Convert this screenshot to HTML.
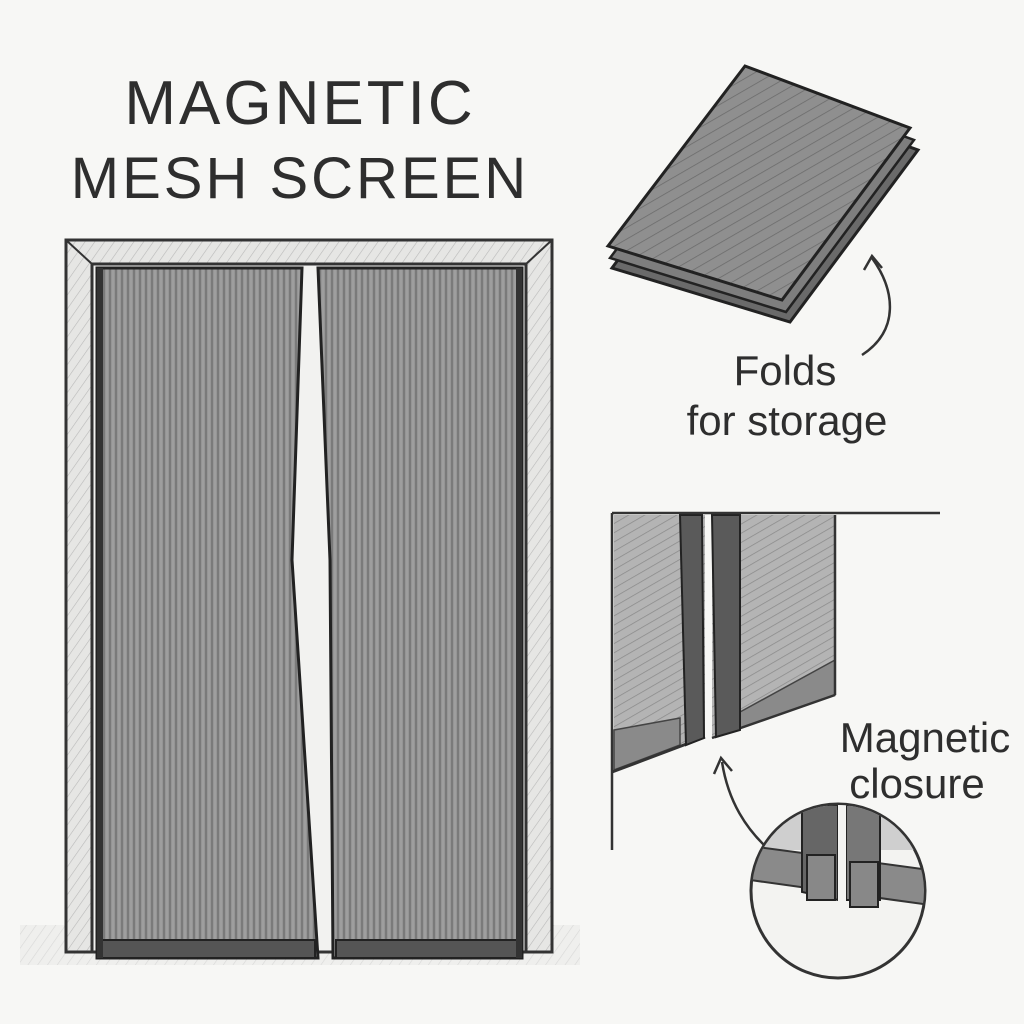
<!DOCTYPE html>
<html><head><meta charset="utf-8"><style>
html,body{margin:0;padding:0;background:#f7f7f5;}
svg{display:block}
text{font-family:"Liberation Sans",sans-serif;fill:#2e2e2e;}
</style></head><body>
<svg width="1024" height="1024" viewBox="0 0 1024 1024" xmlns="http://www.w3.org/2000/svg">
<defs>
<pattern id="vl" width="6" height="40" patternUnits="userSpaceOnUse">
<rect width="6" height="40" fill="#959595"/>
<line x1="2" y1="0" x2="2" y2="40" stroke="#6e6e6e" stroke-width="1.4"/>
<line x1="5" y1="0" x2="5" y2="40" stroke="#a8a8a8" stroke-width="1"/>
</pattern>
<pattern id="vl2" width="8" height="8" patternUnits="userSpaceOnUse" patternTransform="rotate(60)">
<rect width="8" height="8" fill="#b4b4b4"/>
<line x1="0" y1="0" x2="0" y2="8" stroke="#8a8a8a" stroke-width="1.5"/>
</pattern>
<pattern id="hatch" width="8" height="8" patternUnits="userSpaceOnUse" patternTransform="rotate(35)">
<rect width="8" height="8" fill="#e6e6e4"/>
<line x1="0" y1="0" x2="0" y2="8" stroke="#b9b9b9" stroke-width="1.2"/>
</pattern>
<pattern id="fold" width="10" height="10" patternUnits="userSpaceOnUse" patternTransform="rotate(60)">
<rect width="10" height="10" fill="#8f8f8f"/>
<line x1="0" y1="0" x2="0" y2="10" stroke="#6a6a6a" stroke-width="1.5"/>
</pattern>
</defs>
<rect width="1024" height="1024" fill="#f7f7f5"/>

<text x="300" y="124" font-size="62" text-anchor="middle" letter-spacing="3">MAGNETIC</text>
<text x="300" y="198" font-size="58" text-anchor="middle" letter-spacing="3">MESH SCREEN</text>

<rect x="20" y="925" width="560" height="40" fill="url(#hatch)" opacity="0.5"/>

<rect x="66" y="240" width="486" height="712" fill="url(#hatch)" stroke="#333" stroke-width="3"/>
<rect x="92" y="264" width="434" height="688" fill="#f2f2f0" stroke="#333" stroke-width="3"/>
<line x1="66" y1="240" x2="92" y2="264" stroke="#333" stroke-width="2"/>
<line x1="552" y1="240" x2="526" y2="264" stroke="#333" stroke-width="2"/>

<polygon points="97,268 302,268 292,560 318,958 97,958" fill="url(#vl)" stroke="#222" stroke-width="3"/>
<polygon points="318,268 522,268 522,958 333,958 330,560" fill="url(#vl)" stroke="#222" stroke-width="3"/>
<rect x="97" y="940" width="218" height="18" fill="#555" stroke="#222" stroke-width="2"/>
<rect x="336" y="940" width="186" height="18" fill="#555" stroke="#222" stroke-width="2"/>
<rect x="97" y="268" width="6" height="690" fill="#333"/>
<rect x="516" y="268" width="6" height="690" fill="#333"/>

<polygon points="612,268 745,88 918,150 790,322" fill="#6a6a6a" stroke="#222" stroke-width="3"/>
<polygon points="610,258 745,78 914,140 786,312" fill="#7e7e7e" stroke="#222" stroke-width="2.5"/>
<polygon points="608,246 745,66 910,128 782,300" fill="url(#fold)" stroke="#222" stroke-width="3"/>

<path d="M862,355 C900,330 895,290 872,258" fill="none" stroke="#333" stroke-width="2.5"/>
<path d="M864,270 L872,256 L882,268" fill="none" stroke="#333" stroke-width="2.5"/>
<text x="785" y="385" font-size="42" text-anchor="middle">Folds</text>
<text x="787" y="435" font-size="42" text-anchor="middle">for storage</text>

<!-- Closeup -->
<polygon points="614,515 705,515 705,735 614,770" fill="url(#vl2)"/>
<polygon points="614,730 680,718 680,745 614,770" fill="#8a8a8a" stroke="#444" stroke-width="1.5"/>
<polygon points="712,515 835,515 835,695 712,738" fill="url(#vl2)"/>
<polygon points="740,712 835,660 835,695 740,728" fill="#8a8a8a" stroke="#444" stroke-width="1.5"/>
<line x1="835" y1="515" x2="835" y2="695" stroke="#333" stroke-width="2.5"/>
<line x1="612" y1="772" x2="705" y2="737" stroke="#333" stroke-width="3"/>
<line x1="712" y1="738" x2="835" y2="695" stroke="#333" stroke-width="2.5"/>
<polygon points="680,515 702,515 704,738 686,745" fill="#5a5a5a" stroke="#222" stroke-width="2"/>
<polygon points="712,515 740,515 740,730 716,737" fill="#5a5a5a" stroke="#222" stroke-width="2"/>
<line x1="612" y1="513" x2="940" y2="513" stroke="#333" stroke-width="2.5"/>
<line x1="612" y1="513" x2="612" y2="850" stroke="#333" stroke-width="2.5"/>

<text x="925" y="752" font-size="42" text-anchor="middle">Magnetic</text>
<text x="917" y="798" font-size="42" text-anchor="middle">closure</text>

<path d="M775,855 C745,830 728,800 722,762" fill="none" stroke="#333" stroke-width="2.5"/>
<path d="M714,774 L721,758 L732,771" fill="none" stroke="#333" stroke-width="2.5"/>

<circle cx="838" cy="891" r="87" fill="#f3f3f1" stroke="#333" stroke-width="3"/>
<clipPath id="cc"><circle cx="838" cy="891" r="86"/></clipPath>
<g clip-path="url(#cc)">
<rect x="750" y="800" width="180" height="50" fill="#cfcfcf"/>
<polygon points="750,846 930,870 930,905 750,880" fill="#8a8a8a"/>
<polygon points="750,846 930,870 930,905 750,880" fill="none" stroke="#333" stroke-width="2"/>
<polygon points="802,805 838,805 838,900 802,892" fill="#666" stroke="#222" stroke-width="2"/>
<polygon points="846,805 880,805 880,900 846,900" fill="#777" stroke="#222" stroke-width="2"/>
<rect x="807" y="855" width="28" height="45" fill="#888" stroke="#222" stroke-width="2"/>
<rect x="850" y="862" width="28" height="45" fill="#888" stroke="#222" stroke-width="2"/>
<rect x="838" y="805" width="8" height="110" fill="#f3f3f1"/>
</g>
</svg>
</body></html>
